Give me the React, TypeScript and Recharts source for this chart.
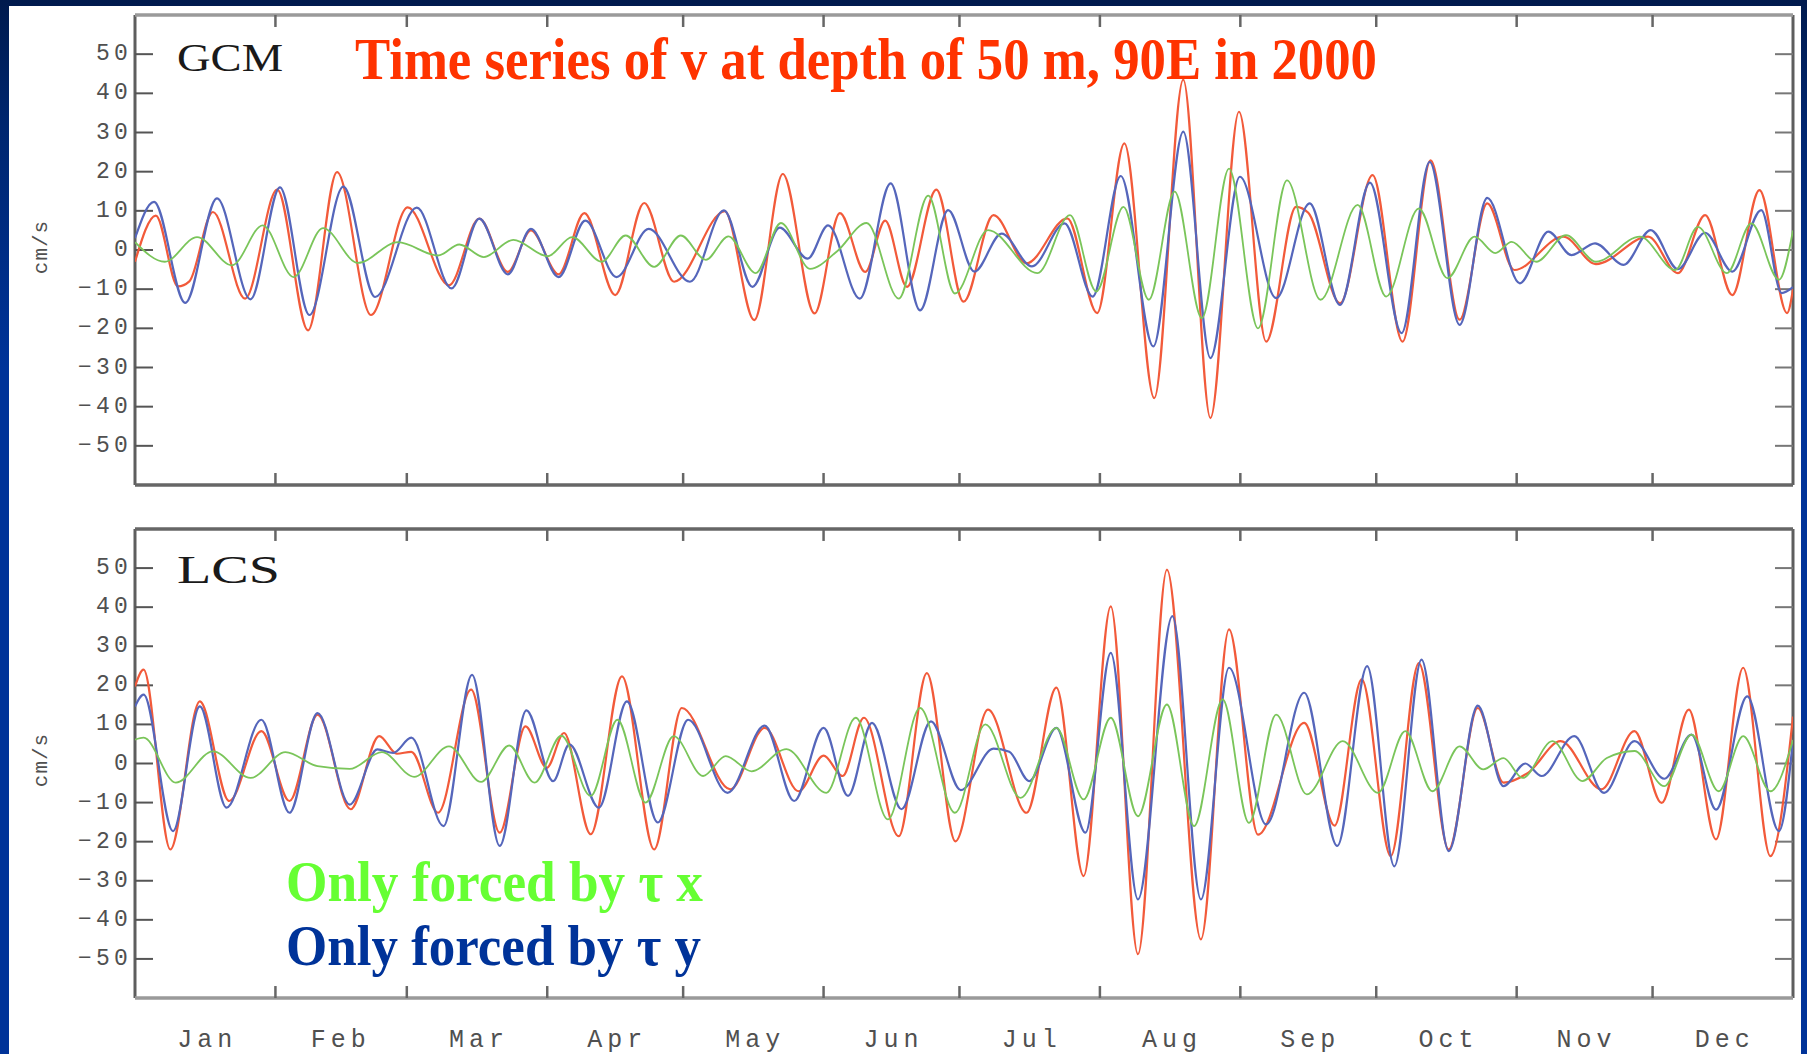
import React from 'react';
import { LineChart, Line, XAxis, YAxis, ReferenceLine } from 'recharts';

// ---- categories / ticks ----
const monthNames = ['Jan', 'Feb', 'Mar', 'Apr', 'May', 'Jun', 'Jul', 'Aug', 'Sep', 'Oct', 'Nov', 'Dec'];
const monthMids = [15.5, 45, 75.5, 106, 136.5, 167, 197.5, 228.5, 259, 289.5, 320, 350.5];
const monthBounds = [31, 60, 91, 121, 152, 182, 213, 244, 274, 305, 335];
const yTicks = [-50, -40, -30, -20, -10, 0, 10, 20, 30, 40, 50];

// ---- series values: [day of year 2000, v (cm/s)] ----
const gcmTotal: [number, number][] = [
  [0, -3], [4.6, 8.8], [9.5, -9.3], [12, -8], [17.2, 9.7], [24.3, -12.4], [31.4, 15.4], [38.2, -20.5],
  [44.6, 19.9], [52.1, -16.6], [60.2, 10.9], [69.3, -9], [76, 8], [82.3, -5.6], [87.4, 5], [93.5, -6.2],
  [99.2, 9.4], [106, -11.5], [112.4, 12], [119, -8.1], [130.2, 9.9], [136.7, -17.9], [143, 19.4],
  [150, -16.2], [155.6, 9.4], [161.2, -5.6], [165.6, 7.5], [170.4, -9.4], [176.9, 15.4], [182.9, -13.2],
  [189.5, 8.9], [196.8, -3.4], [205.8, 8.1], [212.4, -16.1], [218.4, 27.2], [225, -37.8], [231.4, 43.5],
  [237.4, -42.9], [243.7, 35.3], [249.7, -23.4], [256.3, 11], [259, 9.5], [266, -13.6], [273.2, 19.1],
  [279.8, -23.4], [286, 22.9], [292.4, -17.8], [298.5, 11.9], [304.5, -5.1], [315.3, 3.4], [322.5, -3.6],
  [334, 3.4], [340.6, -5.9], [346.6, 8.9], [352.6, -11.5], [358.6, 15.3], [364.7, -16.1], [366, -10],
];
const gcmTauY: [number, number][] = [
  [0, 3], [4.2, 12.3], [11.1, -13.5], [18.1, 13.2], [25.5, -12.6], [32, 16], [38.5, -16.6], [46, 16.2],
  [53, -12], [62.2, 10.8], [69.9, -9.8], [76, 8], [82.3, -6.2], [87.4, 5.4], [93.5, -6.9], [99.4, 7.5],
  [106.3, -6.9], [113.4, 5.4], [122.5, -8.1], [130, 10.1], [136.3, -9.4], [142.3, 5.7], [148.5, -2.2],
  [153, 6.3], [160, -12.4], [166.8, 17], [173.3, -15.4], [179.5, 10.2], [185.3, -5.5], [191.3, 4.2],
  [198, -4.2], [205.2, 6.8], [211.4, -11.9], [217.6, 18.9], [224.8, -24.6], [231.4, 30.2], [237.4, -27.6],
  [243.9, 18.7], [251.9, -12.3], [259.3, 11.9], [266, -14], [272.6, 17.2], [279.6, -21.2], [285.8, 22.5],
  [292.4, -19.1], [298.5, 13.3], [305.7, -8.5], [312, 4.7], [317.1, -1.3], [322.3, 1.7], [328.6, -3.8],
  [334.6, 5.1], [340.6, -4.9], [346.6, 4.4], [352.6, -5.5], [359, 10.2], [363.5, -11], [366, -9.5],
];
const gcmTauX: [number, number][] = [
  [0, 2], [6.6, -3], [13.7, 3.3], [21.4, -3.9], [28.2, 6.3], [35, -6.9], [41.5, 5.6], [49.2, -3.3],
  [58, 2], [66.9, -1.4], [71.6, 1.4], [77, -1.8], [83.5, 2.6], [91.1, -1.6], [96.5, 3.3], [103, -3],
  [108.3, 3.7], [114.6, -4.3], [120.5, 3.7], [126, -2.5], [131, 3.5], [137, -5.9], [142.6, 6.9],
  [149, -4.8], [155, -0.3], [161.5, 6.9], [168.6, -12.4], [175.1, 13.9], [181, -11.1], [188.3, 5.1],
  [199.2, -5.9], [206.4, 8.9], [212.2, -10.6], [218.2, 11], [223.8, -12.7], [229.5, 14.9], [235.5, -17.4],
  [241.5, 20.8], [247.9, -20], [254.3, 17.8], [261.7, -12.7], [269.9, 11.5], [276.2, -11.9], [283.4, 10.6],
  [289.7, -7.2], [295.7, 3.4], [300.3, -0.8], [303.9, 2.1], [309.3, -3], [315.9, 3.8], [322.5, -3],
  [332.2, 3.4], [340, -5.1], [345, 5.9], [351.4, -5.9], [356.8, 6.8], [362.9, -7.6], [366, 5],
];
const lcsTotal: [number, number][] = [
  [0, 19.7], [1.9, 24], [7.8, -22], [14.3, 15.9], [20.8, -9.6], [27.9, 8.3], [34.1, -9.6], [40.3, 12.5],
  [47.6, -11.7], [53.9, 7], [57.8, 2.5], [61, 3], [66.9, -12.6], [74.2, 18.9], [80.5, -17.7], [86.2, 9.5],
  [90.9, -1.1], [94.7, 7.8], [100.6, -18.1], [107.5, 22.3], [114.6, -22], [120.7, 14.2], [131.4, -6.6],
  [139, 9.1], [146.5, -7.1], [152, 2], [156.2, -3.2], [160.9, 11.7], [168.6, -18.6], [174.8, 23.1],
  [181.1, -19.9], [188.3, 13.8], [196.8, -12.6], [203.4, 19.4], [209.4, -28.8], [215.4, 40.2], [221.4, -48.8],
  [227.8, 49.6], [235.3, -45], [241.5, 34.3], [247.9, -18.2], [258.1, 10.4], [264.8, -15.9], [270.8, 21.5],
  [277.2, -23.7], [283.4, 25.7], [290, -22], [296.4, 14.2], [302.1, -4.9], [307.5, -2.4], [314.7, 5.7],
  [323.7, -6.6], [331, 8.3], [337, -10.1], [343, 13.8], [349, -19.4], [355, 24.5], [361, -23.7], [366, 12],
];
const lcsTauY: [number, number][] = [
  [0, 14.6], [1.9, 17.6], [8.4, -17.3], [14.3, 14.6], [20.2, -11.3], [27.9, 11.2], [34.1, -12.6], [40.3, 12.9],
  [47.4, -10.5], [53.5, 3.6], [57, 2.7], [61, 6.6], [68.1, -16], [74.4, 22.7], [80.5, -21.1], [86.4, 13.6],
  [92.3, -4.5], [95.9, 4.9], [102.4, -11.3], [108.6, 15.9], [115.4, -15.1], [122.1, 11.2], [130.8, -7.5],
  [139, 9.7], [145.5, -9.6], [152, 9.1], [157.4, -8.3], [162.7, 10.4], [169.2, -11.7], [175.7, 10.8],
  [182.3, -6.8], [189.5, 3.8], [193, 3], [197.4, -4.5], [203.4, 9.1], [209.8, -17.7], [215.4, 28.3],
  [221.4, -34.8], [229, 37.7], [235.3, -34.8], [241.5, 24.5], [249.7, -15.6], [258.1, 18.1], [265.4, -21.1],
  [272, 24.9], [278, -26.3], [284, 26.6], [290, -22.4], [296.4, 14.8], [302.1, -5.8], [306.9, 0],
  [310.5, -3.2], [317.7, 7], [324.3, -7.5], [331, 5.7], [337.6, -3.9], [343.6, 7.4], [349, -11.8],
  [355.9, 17.2], [362.9, -17.3], [366, 6],
];
const lcsTauX: [number, number][] = [
  [0, 6.1], [1.9, 6.6], [9, -4.9], [17.2, 3.1], [25.5, -3.7], [33.2, 2.9], [40.3, -0.7], [47.4, -1.4],
  [54.5, 2.9], [61.6, -3.4], [69.3, 4.4], [76.4, -4.7], [82.6, 4.6], [88.2, -4.9], [94.1, 7.1], [100.6, -8.3],
  [106.5, 11.2], [112.7, -10], [118.9, 7], [125.4, -3.2], [130.4, 1.9], [136.1, -2], [143.8, 3.7],
  [152.6, -7.5], [159.1, 11.7], [166.2, -14.3], [173.3, 14.2], [181, -12.6], [187.7, 10], [195.5, -8.8],
  [203.4, 9.1], [209.4, -9.2], [215.4, 11.7], [221.4, -13.5], [227.8, 15.1], [233.8, -16], [240.1, 16.4],
  [245.9, -15.2], [251.9, 12.5], [258.7, -7.9], [266.6, 5.7], [274.4, -7.5], [280.4, 8.3], [286.4, -7.1],
  [292.4, 4.4], [297.6, -1.5], [302.1, 1.4], [306.3, -3.7], [312.9, 5.7], [319.5, -4.5], [324.9, 1.4],
  [331, 3.2], [337.6, -5.8], [343.6, 7.4], [349.6, -7.1], [355, 7], [361, -7.1], [366, 6],
];

const rows = (pairs: [number, number][]) => pairs.map(([d, v]) => ({ d, v }));

const RED = '#f25a3a';
const BLUE = '#5566bb';
const GREEN = '#7ac55a';
const MONO = '"Liberation Mono", "DejaVu Sans Mono", monospace';
const SERIF = '"Liberation Serif", "DejaVu Serif", serif';

const TICK_X = 3.97; // inward tick length in days (~18px)
const TICK_Y = 3.06; // inward tick length in cm/s (~12px)

const fmt = (v: number) => (v < 0 ? '\u2212' + Math.abs(v) : String(v));

const YTick = (props: any) => {
  const { x, y, payload } = props;
  return (
    <text x={x} y={y} textAnchor="end" dominantBaseline="central" fill="#505050" fontSize={23}
      fontFamily={MONO} letterSpacing={4.2}>
      {fmt(payload.value)}
    </text>
  );
};

const XTick = (props: any) => {
  const { x, y, payload, index } = props;
  return (
    <text x={x + 2} y={y + 49} textAnchor="middle" fill="#505050" fontSize={25} fontFamily={MONO} letterSpacing={5}>
      {monthNames[index] ?? ''}
    </text>
  );
};

type PanelProps = {
  top: number;
  height: number;
  margin: { top: number; right: number; bottom: number; left: number };
  total: [number, number][];
  tauY: [number, number][];
  tauX: [number, number][];
  showX: boolean;
  topEdge: string;
  bottomEdge: string;
};

function Panel({ top, height, margin, total, tauY, tauX, showX, topEdge, bottomEdge }: PanelProps) {
  return (
    <div style={{ position: 'absolute', left: 0, top }}>
      <LineChart width={1807} height={height} margin={margin}>
        <XAxis
          type="number"
          dataKey="d"
          domain={[0, 366]}
          ticks={monthMids}
          interval={0}
          hide={!showX}
          height={50}
          axisLine={false}
          tickLine={false}
          tickSize={0}
          tickMargin={0}
          tick={<XTick />}
          allowDataOverflow
        />
        <YAxis
          type="number"
          domain={[-60, 60]}
          ticks={yTicks}
          interval={0}
          width={60}
          axisLine={false}
          tickLine={false}
          tickSize={0}
          tickMargin={3}
          tick={<YTick />}
          allowDataOverflow
        />
        {/* frame */}
        <ReferenceLine segment={[{ x: 0, y: -60 }, { x: 0, y: 60 }]} stroke="#5e5e5e" strokeWidth={3} ifOverflow="visible" />
        <ReferenceLine segment={[{ x: 366, y: -60 }, { x: 366, y: 60 }]} stroke="#5e5e5e" strokeWidth={3} ifOverflow="visible" />
        <ReferenceLine segment={[{ x: 0, y: 60 }, { x: 366, y: 60 }]} stroke={topEdge} strokeWidth={3.5} ifOverflow="visible" />
        <ReferenceLine segment={[{ x: 0, y: -60 }, { x: 366, y: -60 }]} stroke={bottomEdge} strokeWidth={3.5} ifOverflow="visible" />
        {/* inward month ticks */}
        {monthBounds.map((b) => (
          <ReferenceLine key={'mt' + b} segment={[{ x: b, y: 60 }, { x: b, y: 60 - TICK_Y }]} stroke="#666" strokeWidth={2.5} ifOverflow="visible" />
        ))}
        {monthBounds.map((b) => (
          <ReferenceLine key={'mb' + b} segment={[{ x: b, y: -60 }, { x: b, y: -60 + TICK_Y }]} stroke="#666" strokeWidth={2.5} ifOverflow="visible" />
        ))}
        {/* inward value ticks */}
        {yTicks.map((v) => (
          <ReferenceLine key={'yl' + v} segment={[{ x: 0, y: v }, { x: TICK_X, y: v }]} stroke="#555" strokeWidth={2} ifOverflow="visible" />
        ))}
        {yTicks.map((v) => (
          <ReferenceLine key={'yr' + v} segment={[{ x: 366 - TICK_X, y: v }, { x: 366, y: v }]} stroke="#777" strokeWidth={2} ifOverflow="visible" />
        ))}
        <Line data={rows(total)} dataKey="v" type="monotone" stroke={RED} strokeWidth={2.2} dot={false} activeDot={false} isAnimationActive={false} />
        <Line data={rows(tauY)} dataKey="v" type="monotone" stroke={BLUE} strokeWidth={2.2} dot={false} activeDot={false} isAnimationActive={false} />
        <Line data={rows(tauX)} dataKey="v" type="monotone" stroke={GREEN} strokeWidth={1.8} dot={false} activeDot={false} isAnimationActive={false} />
      </LineChart>
    </div>
  );
}

export default function App() {
  return (
    <div
      style={{
        position: 'fixed',
        left: 0,
        top: 0,
        width: 1807,
        height: 1054,
        overflow: 'hidden',
        background: 'linear-gradient(180deg, #001a4d 0%, #00266f 12%, #003399 35%, #003399 100%)',
      }}
    >
      <div style={{ position: 'absolute', left: 9, top: 6, width: 1792, height: 1048, background: '#ffffff' }} />
      <Panel
        top={0}
        height={530}
        margin={{ top: 15, right: 14, bottom: 45, left: 75 }}
        total={gcmTotal}
        tauY={gcmTauY}
        tauX={gcmTauX}
        showX={false}
        topEdge="#9a9a9a"
        bottomEdge="#666666"
      />
      <Panel
        top={500}
        height={554}
        margin={{ top: 29, right: 14, bottom: 6, left: 75 }}
        total={lcsTotal}
        tauY={lcsTauY}
        tauX={lcsTauX}
        showX={true}
        topEdge="#666666"
        bottomEdge="#9a9a9a"
      />
      <svg width={1807} height={1054} style={{ position: 'absolute', left: 0, top: 0, pointerEvents: 'none' }}>
        <text x={355} y={79} fill="#ff3300" fontFamily={SERIF} fontWeight="bold" fontSize={59}
          textLength={1022} lengthAdjust="spacingAndGlyphs">
          Time series of v at depth of 50 m, 90E in 2000
        </text>
        <text x={177} y={71} fill="#1a1a1a" fontFamily={SERIF} fontSize={39} textLength={106} lengthAdjust="spacingAndGlyphs">
          GCM
        </text>
        <text x={177} y={583} fill="#1a1a1a" fontFamily={SERIF} fontSize={39} textLength={103} lengthAdjust="spacingAndGlyphs">
          LCS
        </text>
        <text transform="translate(41,247) rotate(-90)" textAnchor="middle" dominantBaseline="central"
          fill="#505050" fontFamily={MONO} fontSize={21} letterSpacing={1}>
          cm/s
        </text>
        <text transform="translate(41,760) rotate(-90)" textAnchor="middle" dominantBaseline="central"
          fill="#505050" fontFamily={MONO} fontSize={21} letterSpacing={1}>
          cm/s
        </text>
        <text x={286} y={901} fill="#66ff33" fontFamily={SERIF} fontWeight="bold" fontSize={56}
          textLength={417} lengthAdjust="spacingAndGlyphs">
          Only forced by τ  x
        </text>
        <text x={286} y={965} fill="#003399" fontFamily={SERIF} fontWeight="bold" fontSize={56}
          textLength={415} lengthAdjust="spacingAndGlyphs">
          Only forced by τ  y
        </text>
      </svg>
    </div>
  );
}
